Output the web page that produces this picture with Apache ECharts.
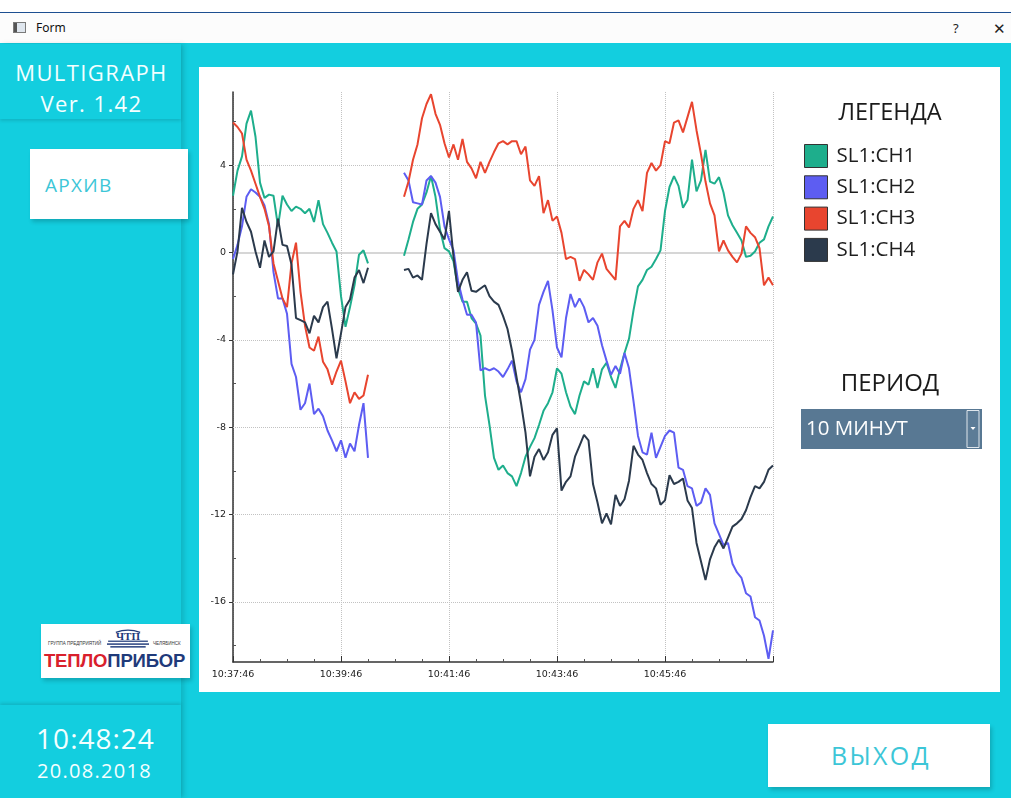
<!DOCTYPE html>
<html>
<head>
<meta charset="utf-8">
<script src="https://cdn.jsdelivr.net/npm/echarts@6/dist/echarts.min.js"></script>
<style>
html,body{margin:0;padding:0;width:1011px;height:798px;overflow:hidden;background:#13cedf;font-family:'Open Sans',sans-serif;}
.abs{position:absolute;}
#topwhite{left:0;top:0;width:1011px;height:12px;background:#ffffff;}
#titlebar{left:0;top:12px;width:1011px;height:31px;background:#fcfcfc;border-top:1px solid #1d4f91;box-sizing:border-box;}
#wicon{left:13px;top:22px;width:11px;height:9px;border:1px solid #7a7a7a;background:#dfe6ee;}
#wicon div{position:absolute;left:0;top:0;width:3px;height:9px;background:#555;}
#formtxt{left:36px;top:20px;font-family:'Noto Sans',sans-serif;font-size:12px;color:#111;line-height:16px;}
#qm{left:953px;top:19px;font-family:'Noto Sans',sans-serif;font-size:13px;color:#222;}
#xx{left:993px;top:18px;font-family:'Noto Sans',sans-serif;font-size:15px;color:#222;font-weight:300;}
#leftpanel{left:0;top:44px;width:181px;height:754px;background:#13cedf;box-shadow:3px 0 5px rgba(0,0,0,0.13);}
#header{left:0;top:44px;width:181px;height:75px;background:#13cedf;box-shadow:0 2px 3px rgba(0,0,0,0.12);}
.wt{color:#f4ffff;white-space:nowrap;}
#mg{left:1px;width:181px;text-align:center;top:57px;font-size:22px;letter-spacing:1.4px;line-height:30px;}
#ver{left:1px;width:181px;text-align:center;top:88px;font-size:22px;letter-spacing:1.4px;line-height:30px;}
#arch{left:30px;top:149px;width:158px;height:70px;background:#fff;box-shadow:2px 3px 4px rgba(0,0,0,0.18);}
#arch span{position:absolute;left:15px;top:23px;font-size:19px;letter-spacing:1.3px;color:#3cc6d7;line-height:26px;}
#logo{left:41px;top:624px;width:149px;height:54px;background:#fff;box-shadow:2px 3px 4px rgba(0,0,0,0.18);overflow:hidden;}
#logo .small{position:absolute;font-family:'Liberation Sans',sans-serif;font-size:4.5px;color:#333;top:17px;}
#logo .big{position:absolute;left:3px;top:26px;font-family:'Liberation Sans',sans-serif;font-weight:bold;font-size:18.5px;letter-spacing:-0.2px;line-height:22px;}
#emb{position:absolute;left:66px;top:5px;width:42px;height:21px;}
#bottomblk{left:0;top:705px;width:181px;height:93px;background:#13cedf;box-shadow:0 -2px 3px rgba(0,0,0,0.12);}
#clock{left:5px;width:181px;text-align:center;top:718px;font-size:28px;letter-spacing:1px;line-height:40px;}
#date{left:4px;width:181px;text-align:center;top:756px;font-size:20px;letter-spacing:1.3px;line-height:30px;}
#panel{left:199px;top:67px;width:801px;height:625px;background:#fff;}
#exit{left:768px;top:724px;width:222px;height:63px;background:#fff;box-shadow:2px 3px 4px rgba(0,0,0,0.18);}
#exit span{position:absolute;left:2px;width:222px;text-align:center;top:14px;font-size:25px;letter-spacing:2.3px;color:#3cc6d7;line-height:34px;}
</style>
</head>
<body>
<div id="topwhite" class="abs"></div>
<div id="titlebar" class="abs"></div>
<div id="wicon" class="abs"><div></div></div>
<div id="formtxt" class="abs">Form</div>
<div id="qm" class="abs">?</div>
<div id="xx" class="abs">✕</div>
<div id="leftpanel" class="abs"></div>
<div id="header" class="abs"></div>
<div id="mg" class="abs wt">MULTIGRAPH</div>
<div id="ver" class="abs wt">Ver. 1.42</div>
<div id="arch" class="abs"><span>АРХИВ</span></div>
<div id="logo" class="abs">
  <div class="small" style="left:7px;">ГРУППА ПРЕДПРИЯТИЙ</div>
  <div class="small" style="left:112px;">ЧЕЛЯБИНСК</div>
  <svg id="emb" viewBox="0 0 38 19">
    <rect x="0" y="13" width="38" height="1.3" fill="#1f3a7a"/>
    <rect x="3" y="15.5" width="32" height="1.3" fill="#1f3a7a"/>
    <rect x="1" y="10.5" width="36" height="1.1" fill="#1f3a7a"/>
    <text x="19" y="10" text-anchor="middle" font-family="Liberation Serif" font-weight="bold" font-size="10" fill="#1f3a7a">ЧТП</text>
    <path d="M8 3 Q19 -1 30 3" stroke="#1f3a7a" stroke-width="1.3" fill="none"/>
  </svg>
  <div class="big"><span style="color:#d9202c">ТЕПЛО</span><span style="color:#1f3a7a">ПРИБОР</span></div>
</div>
<div id="bottomblk" class="abs"></div>
<div id="clock" class="abs wt">10:48:24</div>
<div id="date" class="abs wt">20.08.2018</div>
<div id="panel" class="abs"></div>
<div id="exit" class="abs"><span>ВЫХОД</span></div>

<script>
// ---- data ----
const SERIES_NAMES = ['SL1:CH1', 'SL1:CH2', 'SL1:CH3', 'SL1:CH4'];
const START_TIME = '10:37:46';
const SAMPLE_STEP = 5;          // seconds between readings
const SEG1_START = 0;           // seconds from start
const SEG2_START = 190;
const X_MAX = 600;
const X_STEP = 120;
const Y_MIN = -18.75;
const Y_MAX = 7.35;
const yLabelValues = [-16, -12, -8, -4, 0, 4];
const yMinorValues = [-18, -14, -10, -6, -2, 2, 6];
const legendTitle = 'ЛЕГЕНДА';
const periodTitle = 'ПЕРИОД';
const periodValue = '10 МИНУТ';

const ch1_seg1 = [2.6, 3.75, 4.4, 5.9, 6.5, 5.3, 3.2, 2.5, 2.65, 2.6, 1.2, 2.6, 2.2, 1.9, 2.1, 2.0, 1.8, 2.0, 1.4, 2.4, 1.3, 0.9, 0.45, 0.05, -2.0, -3.4, -2.5, -1.5, -0.1, 0.1, -0.5];
const ch1_seg2 = [-0.15, 0.6, 1.4, 2.0, 2.2, 2.75, 3.5, 2.55, 1.05, 0.2, 0.05, -0.4, -1.65, -2.25, -2.25, -3.0, -3.25, -3.8, -6.55, -7.9, -9.4, -9.95, -9.75, -10.1, -10.25, -10.7, -10.1, -9.35, -8.9, -8.5, -7.9, -7.25, -6.9, -6.4, -5.3, -5.55, -6.4, -7.05, -7.4, -6.55, -5.9, -6.05, -5.3, -6.2, -5.35, -5.05, -5.7, -6.2, -5.35, -4.6, -3.95, -2.65, -1.55, -1.25, -0.8, -0.65, -0.3, 0.1, 1.9, 3.0, 3.5, 3.05, 2.05, 2.4, 4.25, 2.8, 3.3, 4.7, 3.25, 3.15, 3.45, 2.75, 1.7, 1.25, 0.9, 0.55, -0.2, -0.15, 0.05, 0.45, 0.6, 1.2, 1.65];

const ch2_seg1 = [-0.3, 0.35, 1.2, 2.55, 2.9, 2.75, 2.55, 2.15, 1.3, -0.9, -2.1, -2.1, -2.8, -5.1, -5.7, -7.2, -6.9, -6.0, -7.4, -7.15, -7.5, -8.15, -8.6, -9.1, -8.6, -9.4, -8.75, -9.1, -7.9, -6.9, -9.4];
const ch2_seg2 = [3.65, 3.3, 2.3, 2.25, 2.2, 3.3, 3.5, 3.2, 2.55, 1.2, 0.6, 0.1, -1.3, -2.15, -2.85, -2.85, -3.2, -5.4, -5.3, -5.4, -5.3, -5.45, -5.7, -5.35, -4.95, -5.9, -6.4, -5.8, -4.45, -4.0, -2.4, -1.8, -1.3, -2.65, -4.35, -4.8, -3.0, -1.9, -2.5, -2.1, -2.5, -3.2, -3.0, -3.35, -4.25, -4.95, -5.6, -5.2, -5.55, -4.6, -5.3, -6.8, -8.4, -9.15, -9.25, -8.25, -9.4, -8.9, -8.4, -8.15, -8.25, -9.85, -9.95, -10.7, -10.8, -11.6, -11.45, -10.8, -11.1, -12.4, -12.9, -13.4, -13.3, -14.25, -14.65, -14.9, -15.6, -15.75, -16.7, -16.85, -17.55, -18.6, -17.3];

const ch3_seg1 = [5.95, 5.75, 5.45, 4.25, 3.75, 3.15, 2.55, 2.0, 1.2, -0.5, -1.3, -2.1, -2.5, -0.5, 0.45, -1.8, -3.35, -4.35, -4.5, -3.85, -5.0, -5.35, -6.05, -5.45, -4.95, -5.9, -6.9, -6.4, -6.7, -6.55, -5.6];
const ch3_seg2 = [2.55, 3.25, 4.25, 4.95, 6.15, 6.8, 7.25, 6.35, 5.85, 5.0, 4.35, 4.95, 4.25, 5.2, 4.15, 3.85, 3.4, 4.15, 3.65, 4.15, 4.6, 5.0, 5.1, 4.95, 5.1, 5.1, 4.5, 4.85, 3.3, 3.05, 3.5, 1.8, 2.4, 1.45, 1.65, 0.9, -0.3, -0.2, -0.3, -1.3, -0.8, -1.0, -1.25, -0.45, -0.05, -0.75, -1.0, -1.25, 1.2, 1.45, 1.15, 2.0, 2.4, 1.9, 3.65, 4.1, 3.75, 4.0, 5.1, 5.0, 5.95, 6.05, 5.5, 6.2, 6.9, 5.6, 4.5, 3.25, 2.25, 1.7, 0.05, 0.55, 0.1, -0.2, -0.45, -0.05, 1.2, 0.9, 0.7, 0.2, -1.5, -1.15, -1.5];

const ch4_seg1 = [-1.0, 0.05, 2.05, 1.4, 0.95, 0.05, -0.7, 0.55, -0.2, 0.05, 1.55, 0.35, 0.3, -0.55, -3.0, -3.1, -3.2, -3.7, -2.9, -3.2, -2.5, -2.25, -3.5, -4.85, -3.7, -2.5, -2.15, -1.15, -0.8, -1.4, -0.7];
const ch4_seg2 = [-0.8, -0.75, -1.15, -1.05, -1.25, 0.4, 1.8, 1.3, 0.95, 0.6, 1.9, -0.2, -1.8, -1.25, -0.9, -1.75, -1.8, -1.65, -1.5, -2.0, -2.25, -2.4, -2.9, -3.5, -4.5, -5.7, -6.9, -8.25, -10.25, -9.35, -9.0, -9.5, -9.15, -8.35, -8.05, -10.9, -10.5, -10.25, -9.35, -8.85, -8.35, -8.6, -10.6, -11.45, -12.4, -11.95, -12.45, -11.1, -11.6, -11.3, -10.45, -8.85, -9.25, -9.5, -10.1, -10.6, -10.8, -11.55, -11.35, -10.2, -10.6, -10.5, -10.35, -11.35, -11.7, -13.3, -14.15, -15.0, -14.05, -13.5, -13.15, -13.55, -13.05, -12.55, -12.4, -12.2, -11.8, -11.2, -10.7, -10.8, -10.5, -9.95, -9.75];

const COLORS = ['#1eae8c', '#5d5df2', '#e8452f', '#2b3a4c'];

// ---- helpers ----
function toSec(s) { const p = s.split(':').map(Number); return p[0] * 3600 + p[1] * 60 + p[2]; }
const START_SEC = toSec(START_TIME);
function pad(n) { return (n < 10 ? '0' : '') + n; }
function fmtTime(v) {
  const t = START_SEC + Math.round(v);
  return pad(Math.floor(t / 3600)) + ':' + pad(Math.floor(t / 60) % 60) + ':' + pad(t % 60);
}
function build(seg1, seg2) {
  const out = seg1.map((v, i) => [SEG1_START + i * SAMPLE_STEP, v]);
  const gapT = (SEG1_START + (seg1.length - 1) * SAMPLE_STEP + SEG2_START) / 2;
  out.push([gapT, '-']);
  seg2.forEach((v, i) => out.push([SEG2_START + i * SAMPLE_STEP, v]));
  return out;
}
const allData = [build(ch1_seg1, ch1_seg2), build(ch2_seg1, ch2_seg2), build(ch3_seg1, ch3_seg2), build(ch4_seg1, ch4_seg2)];

const chart = echarts.init(document.getElementById('panel'));
const gridLines = yLabelValues.filter(v => v !== 0).map(v => ({ yAxis: v, lineStyle: { type: 'dotted', color: '#c2c2c2', width: 1 } }));
gridLines.push({ yAxis: 0, lineStyle: { type: 'solid', color: '#c9c9c9', width: 1.5 } });

const series = [{
  name: '__grid', type: 'line', data: [], z: 1, silent: true,
  markLine: { silent: true, symbol: 'none', label: { show: false }, z: 1, animation: false, data: gridLines }
}];
SERIES_NAMES.forEach((n, i) => series.push({
  name: n, type: 'line', data: allData[i], showSymbol: false, symbol: 'none', connectNulls: false,
  lineStyle: { width: 2, color: COLORS[i] }, itemStyle: { color: COLORS[i] }, z: 3 + i, silent: true
}));

chart.setOption({
  animation: false,
  textStyle: { fontFamily: 'Open Sans' },
  grid: { left: 34, top: 25, width: 540, height: 570 },
  xAxis: {
    type: 'value', min: 0, max: X_MAX, interval: X_STEP,
    axisLine: { onZero: false, lineStyle: { color: '#333', width: 1.5 } },
    axisTick: { inside: true, length: 6, lineStyle: { color: '#333' } },
    minorTick: { show: true, splitNumber: 4, length: 3, lineStyle: { color: '#555' } },
    axisLabel: { formatter: fmtTime, fontFamily: 'DejaVu Sans', fontSize: 9.5, color: '#222', margin: 8, showMaxLabel: false },
    splitLine: { show: true, lineStyle: { type: 'dotted', color: '#c2c2c2' } },
    minorSplitLine: { show: false }
  },
  yAxis: [{
    type: 'value', min: Y_MIN, max: Y_MAX, position: 'left',
    axisLine: { show: true, onZero: false, lineStyle: { color: '#333', width: 1.5 } },
    axisTick: { show: true, customValues: yLabelValues, length: 4, lineStyle: { color: '#333' } },
    axisLabel: { customValues: yLabelValues, fontFamily: 'DejaVu Sans', fontSize: 9.5, color: '#222', margin: 7 },
    splitLine: { show: false }
  }, {
    type: 'value', min: Y_MIN, max: Y_MAX, position: 'left',
    axisLine: { show: false }, axisLabel: { show: false },
    axisTick: { show: true, inside: true, customValues: yMinorValues, length: 3, lineStyle: { color: '#555' } },
    splitLine: { show: false }
  }],
  legend: {
    data: SERIES_NAMES, orient: 'vertical', left: 605, top: 77, padding: 0, icon: 'rect',
    itemWidth: 23, itemHeight: 23, itemGap: 7.3, selectedMode: false,
    itemStyle: { borderColor: '#333', borderWidth: 1 },
    textStyle: { fontFamily: 'Open Sans', fontSize: 20.5, color: '#1e1e1e', padding: [0, 0, 0, 4] }
  },
  graphic: [
    { type: 'text', x: 691, y: 46, style: { text: legendTitle, fontFamily: 'Open Sans', fontSize: 23.5, fill: '#1a1a1a', align: 'center', verticalAlign: 'middle' } },
    { type: 'text', x: 691, y: 317, style: { text: periodTitle, fontFamily: 'Open Sans', fontSize: 24, fill: '#1a1a1a', align: 'center', verticalAlign: 'middle' } },
    { type: 'rect', shape: { x: 602, y: 342, width: 181, height: 40 }, style: { fill: '#587893' } },
    { type: 'text', x: 607, y: 362, style: { text: periodValue, fontFamily: 'Open Sans', fontSize: 20.5, fill: '#ffffff', align: 'left', verticalAlign: 'middle' } },
    { type: 'rect', shape: { x: 768, y: 343.5, width: 12, height: 37 }, style: { fill: '#5c7c97', stroke: '#dfe6ec', lineWidth: 1 } },
    { type: 'polygon', shape: { points: [[771.5, 360], [776.5, 360], [774, 363]] }, style: { fill: '#ffffff' } }
  ],
  series: series
});
</script>
</body>
</html>
